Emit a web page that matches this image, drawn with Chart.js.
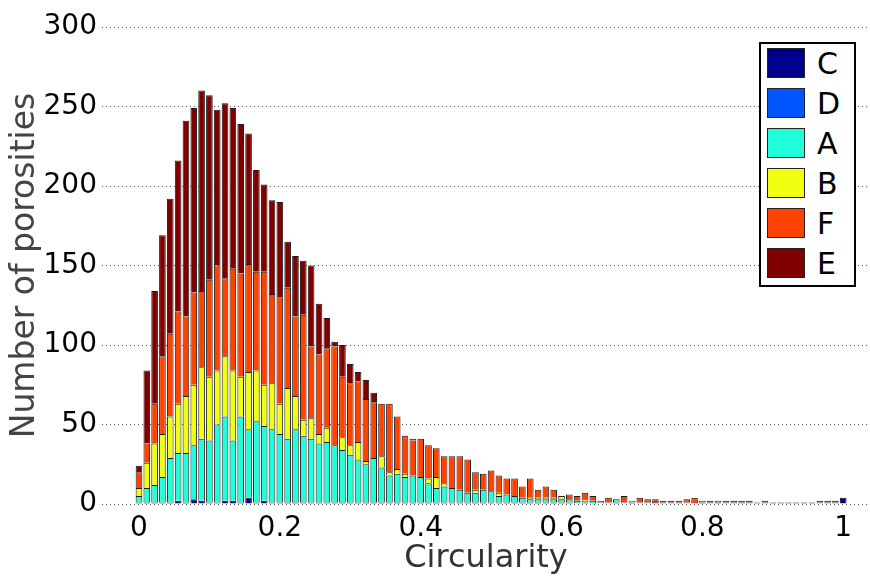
<!DOCTYPE html>
<html>
<head>
<meta charset="utf-8">
<script src="https://cdn.jsdelivr.net/npm/chart.js@4.4.0/dist/chart.umd.min.js"></script>
<style>
  html, body { margin: 0; padding: 0; background: #fff; }
  #wrap { position: relative; width: 870px; height: 578px; overflow: hidden; }
  #legend { position: absolute; left: 759px; top: 42px; width: 93px; height: 241px;
            border: 2px solid #000; background: #fff; }
  .item { position: absolute; left: 6px; width: 85px; height: 30px; }
  .swatch { position: absolute; left: 0; top: 0; width: 36px; height: 28px; border: 1px solid #222; }
  .lbl { position: absolute; left: 50px; top: -2px; font-family: "DejaVu Sans"; font-size: 30px;
         line-height: 36px; color: #000; }
</style>
</head>
<body>
<div id="wrap">
  <canvas id="chart" width="870" height="578"></canvas>
  <div id="legend"></div>
</div>
<script>
// bin centres (circularity), 91 bins from 0 to 1
const binCenters = [
  0, 0.0111, 0.0222, 0.0333, 0.0444, 0.0556, 0.0667, 0.0778, 0.0889, 0.1,
  0.1111, 0.1222, 0.1333, 0.1444, 0.1556, 0.1667, 0.1778, 0.1889, 0.2, 0.2111,
  0.2222, 0.2333, 0.2444, 0.2556, 0.2667, 0.2778, 0.2889, 0.3, 0.3111, 0.3222,
  0.3333, 0.3444, 0.3556, 0.3667, 0.3778, 0.3889, 0.4, 0.4111, 0.4222, 0.4333,
  0.4444, 0.4556, 0.4667, 0.4778, 0.4889, 0.5, 0.5111, 0.5222, 0.5333, 0.5444,
  0.5556, 0.5667, 0.5778, 0.5889, 0.6, 0.6111, 0.6222, 0.6333, 0.6444, 0.6556,
  0.6667, 0.6778, 0.6889, 0.7, 0.7111, 0.7222, 0.7333, 0.7444, 0.7556, 0.7667,
  0.7778, 0.7889, 0.8, 0.8111, 0.8222, 0.8333, 0.8444, 0.8556, 0.8667, 0.8778,
  0.8889, 0.9, 0.9111, 0.9222, 0.9333, 0.9444, 0.9556, 0.9667, 0.9778, 0.9889,
  1
];

// counts per class, stacked bottom to top: C, D, A, B, F, E
const countsC = [
  1, 1, 1, 1, 1, 2, 1, 3, 2, 1,
  1, 2, 2, 1, 4, 1, 2, 1, 1, 1,
  1, 1, 1, 1, 1, 1, 1, 1, 1, 1,
  1, 1, 1, 1, 1, 1, 1, 1, 1, 1,
  1, 1, 1, 1, 1, 1, 1, 1, 1, 1,
  1, 1, 1, 1, 1, 1, 0, 1, 0, 0,
  0, 1, 0, 1, 0, 0, 0, 0, 0, 0,
  0, 0, 1, 0, 1, 0, 0, 0, 0, 0,
  0, 0, 0, 0, 0, 0, 0, 0, 0, 0,
  4
];
const countsD = [
  0, 0, 0, 0, 0, 0, 0, 0, 0, 0,
  0, 0, 0, 0, 0, 0, 0, 0, 0, 0,
  0, 0, 0, 0, 0, 0, 0, 0, 0, 0,
  0, 0, 0, 0, 0, 0, 0, 0, 0, 0,
  0, 0, 0, 0, 0, 0, 0, 0, 0, 0,
  0, 0, 0, 0, 0, 0, 0, 0, 0, 0,
  0, 0, 0, 0, 0, 0, 0, 0, 0, 0,
  0, 0, 0, 0, 0, 0, 0, 0, 0, 0,
  0, 0, 0, 0, 0, 0, 0, 0, 0, 0,
  0
];
const countsA = [
  4, 9, 11, 16, 28, 30, 31, 34, 39, 39,
  49, 53, 38, 54, 43, 51, 47, 46, 43, 40,
  46, 42, 40, 37, 38, 36, 33, 30, 27, 24,
  28, 22, 17, 18, 16, 17, 16, 12, 9, 10,
  9, 8, 6, 6, 8, 7, 4, 5, 4, 3,
  2, 2, 2, 2, 2, 2, 2, 1, 2, 0,
  1, 2, 1, 1, 1, 1, 0, 0, 0, 0,
  1, 0, 0, 0, 0, 0, 0, 0, 0, 0,
  0, 0, 0, 0, 0, 0, 0, 0, 0, 0,
  0
];
const countsB = [
  5, 16, 26, 27, 26, 31, 36, 38, 45, 40,
  34, 38, 44, 25, 36, 32, 26, 29, 19, 32,
  21, 10, 13, 6, 9, 0, 8, 6, 11, 2,
  0, 7, 2, 3, 2, 0, 0, 3, 7, 2,
  0, 0, 0, 2, 0, 0, 2, 0, 0, 0,
  1, 1, 1, 1, 2, 0, 0, 1, 0, 1,
  0, 0, 0, 0, 0, 0, 0, 0, 0, 0,
  0, 0, 0, 0, 0, 0, 0, 0, 0, 0,
  0, 0, 0, 0, 0, 0, 0, 0, 0, 0,
  0
];
const countsF = [
  10, 12, 25, 49, 52, 58, 50, 58, 48, 61,
  66, 49, 64, 65, 68, 62, 71, 56, 67, 63,
  50, 66, 45, 50, 50, 62, 38, 39, 38, 39,
  35, 33, 43, 33, 23, 22, 24, 21, 18, 17,
  20, 21, 21, 11, 10, 13, 11, 10, 11, 7,
  12, 5, 7, 5, 0, 3, 3, 4, 3, 1,
  3, 0, 4, 0, 3, 2, 2, 1, 1, 1,
  2, 3, 1, 1, 1, 1, 1, 1, 1, 0,
  1, 0, 0, 0, 0, 0, 0, 1, 1, 1,
  0
];
const countsE = [
  4, 46, 71, 76, 85, 95, 123, 116, 126, 116,
  98, 110, 101, 94, 82, 64, 55, 59, 60, 29,
  38, 34, 51, 32, 19, 3, 20, 12, 6, 12,
  6, 0, 0, 0, 1, 1, 0, 0, 0, 0,
  0, 0, 0, 0, 0, 0, 0, 0, 0, 0,
  0, 0, 0, 0, 0, 0, 0, 0, 0, 0,
  0, 0, 0, 0, 0, 0, 1, 1, 1, 1,
  0, 1, 0, 1, 0, 1, 1, 1, 1, 1,
  1, 1, 1, 1, 1, 1, 1, 1, 1, 1,
  0
];

const seriesNames = ["C", "D", "A", "B", "F", "E"];
const seriesData = [countsC, countsD, countsA, countsB, countsF, countsE];
const seriesColors = ["#00008c", "#0055ff", "#20ffdc", "#f0ff10", "#ff4200", "#800000"];

const yTicks = [0, 50, 100, 150, 200, 250, 300];

document.addEventListener('DOMContentLoaded', function() {
  const ctx = document.getElementById("chart").getContext("2d");
  const chart = createChart(ctx);
  buildLegend(chart);
});

function createChart(ctx) {
  const datasets = seriesNames.map((name, i) => ({
    label: name,
    // zero counts are left out so no empty outline gets drawn
    data: seriesData[i].map(v => (v === 0 ? null : v)),
    backgroundColor: seriesColors[i],
    borderColor: "#1c1c1c",
    borderWidth: 1,
    barPercentage: 0.85,
    categoryPercentage: 1.0
  }));

  return new Chart(ctx, {
    type: "bar",
    data: {
      labels: binCenters,
      datasets: datasets
    },
    options: {
      responsive: false,
      animation: false,
      layout: { padding: { top: 27, right: 0, bottom: 0, left: 0 } },
      plugins: {
        legend: { display: false },
        tooltip: { enabled: false }
      },
      scales: {
        x: {
          type: "linear",
          stacked: true,
          offset: false,
          min: -0.0525,
          max: 1.038,
          grid: { display: false, drawTicks: false, offset: false },
          border: { display: false },
          ticks: {
            stepSize: 0.2,
            includeBounds: false,
            padding: 8,
            color: "#000",
            font: { family: "DejaVu Sans", size: 28 },
            callback: v => String(Math.round(v * 10) / 10)
          },
          title: {
            display: true,
            text: "Circularity",
            color: "#333",
            font: { family: "DejaVu Sans", size: 32 },
            padding: { top: 0, bottom: 0 }
          },
          afterFit: scale => { scale.height = 74; }
        },
        y: {
          stacked: true,
          min: yTicks[0],
          max: yTicks[yTicks.length - 1],
          grid: { color: "#555", lineWidth: 1, drawTicks: false },
          border: { display: false, dash: [1, 3] },
          ticks: {
            stepSize: 50,
            padding: 5,
            color: "#000",
            font: { family: "DejaVu Sans", size: 28 }
          },
          title: {
            display: true,
            text: "Number of porosities",
            color: "#444",
            font: { family: "DejaVu Sans", size: 33 },
            padding: { top: 6, bottom: 0 }
          },
          afterFit: scale => { scale.width = 102; }
        }
      }
    }
  });
}

function buildLegend(chart) {
  const box = document.getElementById("legend");
  chart.data.datasets.forEach((ds, i) => {
    const item = document.createElement("div");
    item.className = "item";
    item.style.top = (4 + i * 40) + "px";
    const sw = document.createElement("div");
    sw.className = "swatch";
    sw.style.background = ds.backgroundColor;
    const lbl = document.createElement("span");
    lbl.className = "lbl";
    lbl.textContent = ds.label;
    item.appendChild(sw);
    item.appendChild(lbl);
    box.appendChild(item);
  });
}
</script>
</body>
</html>
